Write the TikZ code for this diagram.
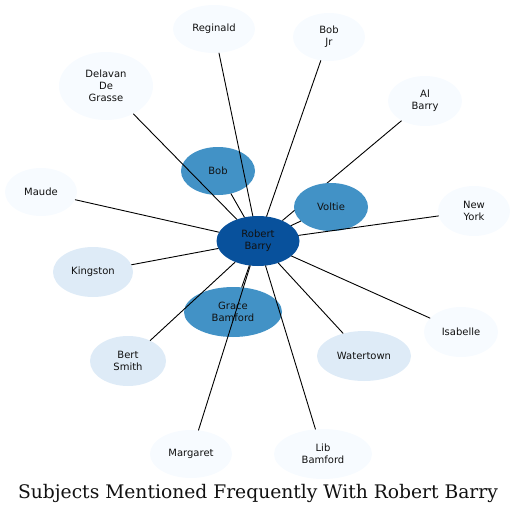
\documentclass[tikz,border=0pt]{standalone}
\usepackage{fontspec}
\setsansfont{DejaVu Sans}
\newfontfamily\titlefont{DejaVu Serif}
\usepackage{tikz}
\usetikzlibrary{backgrounds,shapes.geometric}
\definecolor{rbDark}{HTML}{08519C}
\definecolor{rbMid}{HTML}{4292C6}
\definecolor{rbLight}{HTML}{DEEBF7}
\definecolor{rbPale}{HTML}{F7FBFF}
\definecolor{rbInk}{HTML}{111111}
\tikzset{
  rb diagram/.style={font=\sffamily\fontsize{10}{12}\selectfont, text=rbInk,
    line cap=round, line join=round},
  rb node/.style={ellipse, draw=none, align=center, inner sep=0pt},
  rb hub/.style={rb node, fill=rbDark},
  rb mid/.style={rb node, fill=rbMid},
  rb light/.style={rb node, fill=rbLight},
  rb pale/.style={rb node, fill=rbPale},
  rb edge/.style={draw=black, line width=0.9pt}
}

\begin{document}
\begin{tikzpicture}[rb diagram, x=1pt, y=-1pt]
\useasboundingbox (0,0) rectangle (516,514);
\node[rb hub, minimum width=83pt, minimum height=50pt] (robert) at (258,241) {Robert\\Barry};
\node[rb mid, minimum width=74pt, minimum height=48pt] (bob) at (218,171) {Bob};
\node[rb mid, minimum width=74pt, minimum height=48pt] (voltie) at (331,207) {Voltie};
\node[rb mid, minimum width=98pt, minimum height=50pt] (grace) at (233,312) {Grace\\Bamford};
\node[rb pale, minimum width=82pt, minimum height=48pt] (reginald) at (214,29) {Reginald};
\node[rb pale, minimum width=72pt, minimum height=48pt] (bobjr) at (329,37) {Bob\\Jr};
\node[rb pale, minimum width=94pt, minimum height=68pt] (delavan) at (106,86) {Delavan\\De\\Grasse};
\node[rb pale, minimum width=74pt, minimum height=50pt] (albarry) at (425,101) {Al\\Barry};
\node[rb pale, minimum width=72pt, minimum height=48pt] (maude) at (41,192) {Maude};
\node[rb pale, minimum width=72pt, minimum height=50pt] (newyork) at (474,211) {New\\York};
\node[rb light, minimum width=80pt, minimum height=50pt] (kingston) at (93,272) {Kingston};
\node[rb light, minimum width=76pt, minimum height=50pt] (bert) at (128,361) {Bert\\Smith};
\node[rb light, minimum width=94pt, minimum height=50pt] (watertown) at (364,356) {Watertown};
\node[rb pale, minimum width=74pt, minimum height=50pt] (isabelle) at (461,332) {Isabelle};
\node[rb pale, minimum width=82pt, minimum height=48pt] (margaret) at (191,454) {Margaret};
\node[rb pale, minimum width=98pt, minimum height=50pt] (lib) at (323,454) {Lib\\Bamford};
% this one runs under Voltie
\begin{scope}[on background layer]
\draw[rb edge] (robert) -- (albarry);
\end{scope}
\foreach \other in {bob,voltie,grace,reginald,bobjr,delavan,maude,newyork,
  kingston,bert,watertown,isabelle,margaret,lib}
  \draw[rb edge] (robert) -- (\other);
\node[font=\titlefont\fontsize{18.7}{22}\selectfont] (title) at (258,493) {Subjects Mentioned Frequently With Robert Barry};
\end{tikzpicture}
\end{document}
